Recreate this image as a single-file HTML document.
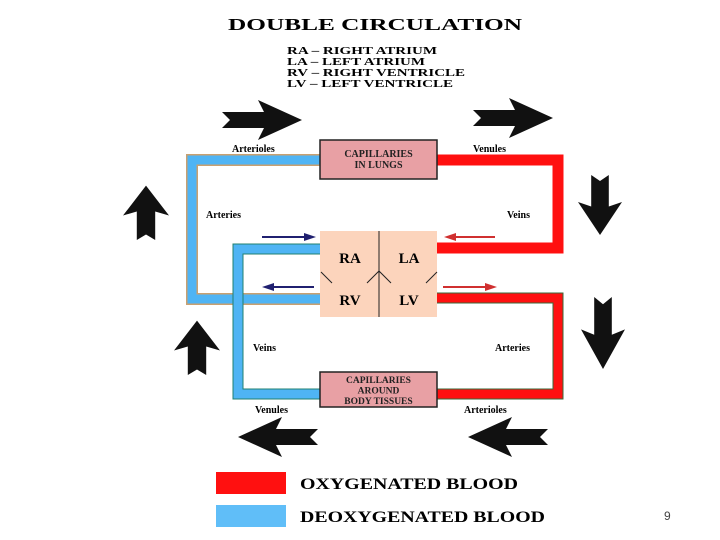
<!DOCTYPE html>
<html><head><meta charset="utf-8"><style>
body{margin:0;background:#fff}
svg{display:block}
text{font-family:"Liberation Serif",serif;font-weight:bold}
</style></head><body>
<svg width="720" height="540" viewBox="0 0 720 540" xmlns="http://www.w3.org/2000/svg">
<defs>
<g id="bigarrow"><path d="M0,-8 L42,-8 L36,-20 L80,0 L36,20 L42,8 L0,8 L8,0 Z" fill="#111"/></g>
</defs>
<text x="375" y="30" font-size="17" text-anchor="middle" textLength="294" lengthAdjust="spacingAndGlyphs">DOUBLE CIRCULATION</text>
<g font-size="10.5">
<text x="287" y="54" textLength="150" lengthAdjust="spacingAndGlyphs">RA – RIGHT ATRIUM</text>
<text x="287" y="65" textLength="138" lengthAdjust="spacingAndGlyphs">LA – LEFT ATRIUM</text>
<text x="287" y="76" textLength="178" lengthAdjust="spacingAndGlyphs">RV – RIGHT VENTRICLE</text>
<text x="287" y="87" textLength="166" lengthAdjust="spacingAndGlyphs">LV – LEFT VENTRICLE</text>
</g>
<path d="M320,160 L192,160 L192,299 L320,299" fill="none" stroke="#c8a070" stroke-width="12"/>
<path d="M320,160 L192,160 L192,299 L320,299" fill="none" stroke="#4fb4f4" stroke-width="9"/>
<path d="M437,160 L558,160 L558,248 L437,248" fill="none" stroke="#ff1010" stroke-width="11"/>
<path d="M437,298 L558,298 L558,394 L437,394" fill="none" stroke="#3a6a3a" stroke-width="11"/>
<path d="M437,298 L558,298 L558,394 L437,394" fill="none" stroke="#ff1010" stroke-width="9"/>
<path d="M320,249 L238,249 L238,394 L320,394" fill="none" stroke="#208070" stroke-width="11"/>
<path d="M320,249 L238,249 L238,394 L320,394" fill="none" stroke="#4fb4f4" stroke-width="9"/>
<rect x="320" y="140" width="117" height="39" fill="#e8a0a4" stroke="#222" stroke-width="1.5"/>
<text x="378.5" y="157" font-size="10" text-anchor="middle" fill="#222">CAPILLARIES</text>
<text x="378.5" y="168" font-size="10" text-anchor="middle" fill="#222">IN LUNGS</text>
<rect x="320" y="372" width="117" height="35" fill="#e8a0a4" stroke="#222" stroke-width="1.5"/>
<text x="378.5" y="383" font-size="9.5" text-anchor="middle" fill="#222">CAPILLARIES</text>
<text x="378.5" y="393.5" font-size="9.5" text-anchor="middle" fill="#222">AROUND</text>
<text x="378.5" y="404" font-size="9.5" text-anchor="middle" fill="#222">BODY TISSUES</text>
<rect x="320" y="231" width="117" height="86" fill="#fcd4bc"/>
<line x1="379" y1="231" x2="379" y2="317" stroke="#222" stroke-width="1"/>
<path d="M321,272 L332,283 M367,283 L379,271 L391,283 M426,283 L437,272" stroke="#222" stroke-width="1" fill="none"/>
<text x="350" y="263" font-size="15" text-anchor="middle">RA</text>
<text x="409" y="263" font-size="15" text-anchor="middle">LA</text>
<text x="350" y="305" font-size="15" text-anchor="middle">RV</text>
<text x="409" y="305" font-size="15" text-anchor="middle">LV</text>
<g font-size="10">
<text x="232" y="152">Arterioles</text>
<text x="473" y="152">Venules</text>
<text x="206" y="218">Arteries</text>
<text x="507" y="218">Veins</text>
<text x="253" y="351">Veins</text>
<text x="495" y="351">Arteries</text>
<text x="255" y="413">Venules</text>
<text x="464" y="413">Arterioles</text>
</g>
<g stroke-width="2">
<line x1="262" y1="237" x2="308" y2="237" stroke="#202070"/><path d="M316,237 L304,233 L304,241Z" fill="#202070"/>
<line x1="270" y1="287" x2="314" y2="287" stroke="#202070"/><path d="M262,287 L274,283 L274,291Z" fill="#202070"/>
<line x1="452" y1="237" x2="495" y2="237" stroke="#d03030"/><path d="M444,237 L456,233 L456,241Z" fill="#d03030"/>
<line x1="443" y1="287" x2="489" y2="287" stroke="#d03030"/><path d="M497,287 L485,283 L485,291Z" fill="#d03030"/>
</g>
<use href="#bigarrow" transform="translate(222,120)"/>
<use href="#bigarrow" transform="translate(473,118)"/>
<use href="#bigarrow" transform="translate(600,175) rotate(90) scale(0.75,1.1)"/>
<use href="#bigarrow" transform="translate(603,297) rotate(90) scale(0.9,1.1)"/>
<use href="#bigarrow" transform="translate(318,437) rotate(180)"/>
<use href="#bigarrow" transform="translate(548,437) rotate(180)"/>
<use href="#bigarrow" transform="translate(146,240) rotate(-90) scale(0.68,1.15)"/>
<use href="#bigarrow" transform="translate(197,375) rotate(-90) scale(0.68,1.15)"/>
<rect x="216" y="472" width="70" height="22" fill="#ff1010"/>
<rect x="216" y="505" width="70" height="22" fill="#60bef8"/>
<text x="300" y="489" font-size="16" textLength="218" lengthAdjust="spacingAndGlyphs">OXYGENATED BLOOD</text>
<text x="300" y="522" font-size="16" textLength="245" lengthAdjust="spacingAndGlyphs">DEOXYGENATED BLOOD</text>
<text x="664" y="520" font-size="12" style="font-family:'Liberation Sans',sans-serif;font-weight:normal" fill="#444">9</text>
</svg>
</body></html>
